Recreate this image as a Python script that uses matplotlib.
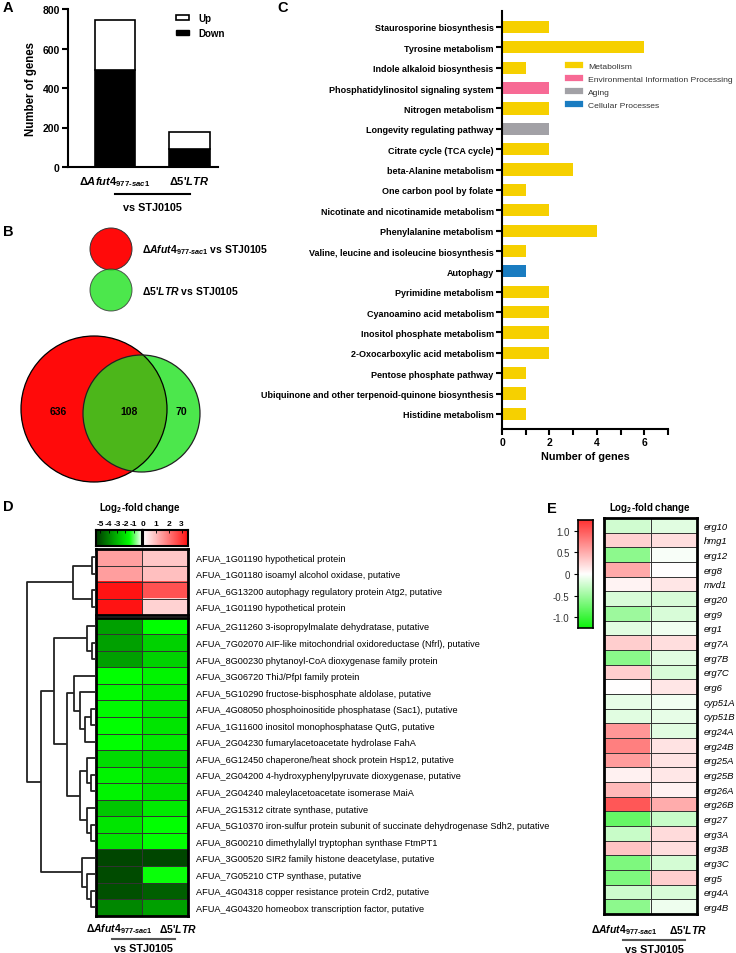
import numpy as np
import matplotlib
matplotlib.use('Agg')
import matplotlib.pyplot as plt
from matplotlib.colors import LinearSegmentedColormap
from matplotlib.patches import Circle, Patch
from matplotlib.lines import Line2D

plt.rcParams['font.family'] = ['Liberation Sans', 'DejaVu Sans']
plt.rcParams['mathtext.fontset'] = 'custom'
plt.rcParams['mathtext.rm'] = 'Liberation Sans:bold'
plt.rcParams['mathtext.it'] = 'Liberation Sans:italic:bold'
plt.rcParams['mathtext.bf'] = 'Liberation Sans:bold'

W, H = 736, 954

AFUT = r'$\Delta\mathit{Afut4}_{\mathit{977\text{-}sac1}}$'
LTR = r"$\Delta\mathit{5\text{'}LTR}$"

# ---- A: DEG counts ----
a_strains = [AFUT, LTR]
a_down = [490, 90]
a_up = [254, 88]

# ---- B: Venn counts ----
venn_only_afut = 636
venn_shared = 108
venn_only_ltr = 70

# ---- C: KEGG pathways ----
pathways = ['Staurosporine biosynthesis', 'Tyrosine metabolism', 'Indole alkaloid biosynthesis',
            'Phosphatidylinositol signaling system', 'Nitrogen metabolism',
            'Longevity regulating pathway', 'Citrate cycle (TCA cycle)', 'beta-Alanine metabolism',
            'One carbon pool by folate', 'Nicotinate and nicotinamide metabolism',
            'Phenylalanine metabolism', 'Valine, leucine and isoleucine biosynthesis', 'Autophagy',
            'Pyrimidine metabolism', 'Cyanoamino acid metabolism', 'Inositol phosphate metabolism',
            '2-Oxocarboxylic acid metabolism', 'Pentose phosphate pathway',
            'Ubiquinone and other terpenoid-quinone biosynthesis', 'Histidine metabolism']
pathway_counts = [2, 6, 1, 2, 2, 2, 2, 3, 1, 2, 4, 1, 1, 2, 2, 2, 2, 1, 1, 1]
pathway_class = ['Metabolism', 'Metabolism', 'Metabolism', 'Environmental Information Processing',
                 'Metabolism', 'Aging', 'Metabolism', 'Metabolism', 'Metabolism', 'Metabolism',
                 'Metabolism', 'Metabolism', 'Cellular Processes', 'Metabolism', 'Metabolism',
                 'Metabolism', 'Metabolism', 'Metabolism', 'Metabolism', 'Metabolism']
class_names = ['Metabolism', 'Environmental Information Processing', 'Aging', 'Cellular Processes']
class_colors = ['#f6d000', '#f76a95', '#a2a1a6', '#1a7cc1']

# ---- D: heatmap of DEGs ----
d_genes = ['AFUA_1G01190 hypothetical protein',
           'AFUA_1G01180 isoamyl alcohol oxidase, putative',
           'AFUA_6G13200 autophagy regulatory protein Atg2, putative',
           'AFUA_1G01190 hypothetical protein',
           'AFUA_2G11260 3-isopropylmalate dehydratase, putative',
           'AFUA_7G02070 AIF-like mitochondrial oxidoreductase (Nfrl), putative',
           'AFUA_8G00230 phytanoyl-CoA dioxygenase family protein',
           'AFUA_3G06720 ThiJ/PfpI family protein',
           'AFUA_5G10290 fructose-bisphosphate aldolase, putative',
           'AFUA_4G08050 phosphoinositide phosphatase (Sac1), putative',
           'AFUA_1G11600 inositol monophosphatase QutG, putative',
           'AFUA_2G04230 fumarylacetoacetate hydrolase FahA',
           'AFUA_6G12450 chaperone/heat shock protein Hsp12, putative',
           'AFUA_2G04200 4-hydroxyphenylpyruvate dioxygenase, putative',
           'AFUA_2G04240 maleylacetoacetate isomerase MaiA',
           'AFUA_2G15312 citrate synthase, putative',
           'AFUA_5G10370 iron-sulfur protein subunit of succinate dehydrogenase Sdh2, putative',
           'AFUA_8G00210 dimethylallyl tryptophan synthase FtmPT1',
           'AFUA_3G00520 SIR2 family histone deacetylase, putative',
           'AFUA_7G05210 CTP synthase, putative',
           'AFUA_4G04318 copper resistance protein Crd2, putative',
           'AFUA_4G04320 homeobox transcription factor, putative']
d_afut = [1.36, 1.4, 3.4, 3.4, -3.4, -3.4, -3.4, -1.5, -1.6, -1.6, -1.5, -1.5,
          -2.2, -1.7, -1.7, -2.6, -2.0, -2.0, -5.2, -5.1, -5.0, -3.9]
d_ltr = [0.8, 0.92, 2.5, 0.65, -1.5, -2.4, -2.4, -1.7, -1.9, -2.0, -2.0, -1.9,
         -2.3, -2.1, -2.1, -1.9, -1.5, -1.5, -5.2, -1.45, -4.7, -3.4]
d_blocks = [4, 18]
# dendrogram merges: (left, right, height); leaves 0..21, new nodes from 22
d_merges = [(0, 1, 4), (2, 3, 4), (22, 23, 23),
            (5, 6, 4), (4, 25, 9),
            (9, 10, 5), (27, 11, 11), (8, 28, 16), (7, 29, 22),
            (13, 14, 5), (12, 31, 9), (16, 17, 5), (15, 33, 9), (32, 34, 16),
            (30, 35, 29), (26, 36, 42),
            (20, 21, 5), (19, 38, 9), (18, 39, 14),
            (37, 40, 55), (24, 41, 69)]

# ---- E: ergosterol genes ----
e_genes = ['erg10', 'hmg1', 'erg12', 'erg8', 'mvd1', 'erg20', 'erg9', 'erg1', 'erg7A', 'erg7B',
           'erg7C', 'erg6', 'cyp51A', 'cyp51B', 'erg24A', 'erg24B', 'erg25A', 'erg25B', 'erg26A',
           'erg26B', 'erg27', 'erg3A', 'erg3B', 'erg3C', 'erg5', 'erg4A', 'erg4B']
e_afut = [-0.24, 0.28, -0.58, 0.52, 0.07, -0.2, -0.5, -0.15, 0.3, -0.6, 0.3, 0.0, -0.12, -0.15,
          0.63, 0.78, 0.6, 0.08, 0.42, 1.02, -0.79, -0.28, 0.36, -0.66, -0.66, -0.25, -0.58]
e_ltr = [-0.15, 0.2, -0.03, 0.0, 0.15, -0.2, -0.2, -0.07, 0.2, -0.15, -0.2, 0.15, -0.06, -0.12,
         -0.15, 0.17, 0.17, 0.14, 0.08, 0.5, -0.28, 0.22, 0.2, -0.22, 0.3, -0.2, -0.08]

fig = plt.figure(figsize=(W / 100, H / 100), dpi=100)


def px_axes(x0, y0, x1, y1):
    return fig.add_axes([x0 / W, 1 - y1 / H, (x1 - x0) / W, (y1 - y0) / H])


def style_spines(ax, lw=1.5):
    for s in ['top', 'right']:
        ax.spines[s].set_visible(False)
    for s in ['left', 'bottom']:
        ax.spines[s].set_linewidth(lw)


# ================= A =================
axA = px_axes(68, 10, 218, 168)
xa = np.arange(len(a_strains))
axA.bar(xa, a_down, width=0.54, color='black', edgecolor='black', lw=1.2)
axA.bar(xa, a_up, bottom=a_down, width=0.54, color='white', edgecolor='black', lw=1.2)
axA.set_xlim(-0.63, 1.38)
axA.set_ylim(0, 800)
axA.set_yticks([0, 200, 400, 600, 800])
axA.set_xticks(xa)
axA.set_xticklabels(a_strains, fontsize=8)
axA.tick_params(axis='x', length=0, pad=5)
axA.tick_params(axis='y', length=4, width=1.5, labelsize=7.5, pad=2)
for t in axA.get_yticklabels():
    t.set_fontweight('bold')
axA.set_ylabel('Number of genes', fontsize=8.3, fontweight='bold', labelpad=4)
style_spines(axA)
axA.legend([Patch(fc='white', ec='black', lw=1.2), Patch(fc='black', ec='black')], ['Up', 'Down'],
           loc='upper left', bbox_to_anchor=(0.66, 1.03), frameon=False, handlelength=1.4,
           handleheight=0.45, handletextpad=0.9, labelspacing=0.5,
           prop={'size': 7, 'weight': 'bold'})

# ================= C =================
axC = px_axes(502, 12, 668, 430)
yc = np.arange(len(pathways))
cmap_cls = dict(zip(class_names, class_colors))
axC.barh(yc, pathway_counts, height=0.6, color=[cmap_cls[c] for c in pathway_class])
axC.set_ylim(len(pathways) - 1 + 0.74, -0.785)
axC.set_xlim(0, 7)
axC.set_yticks(yc)
axC.set_yticklabels(pathways, fontsize=6.5, fontweight='bold')
axC.set_xticks([0, 2, 4, 6])
axC.set_xticks([1, 3, 5, 7], minor=True)
axC.tick_params(axis='both', which='both', length=4, width=1.5, pad=2)
axC.tick_params(axis='x', labelsize=7.5)
for t in axC.get_xticklabels():
    t.set_fontweight('bold')
axC.set_xlabel('Number of genes', fontsize=7.8, fontweight='bold', labelpad=3)
style_spines(axC)
handles = [Line2D([], [], color=c, lw=4.5) for c in class_colors]
leg = axC.legend(handles, class_names, loc='upper left', bbox_to_anchor=(0.38, 0.885),
                 frameon=False, fontsize=6.1, handlelength=1.4, labelspacing=0.6,
                 handletextpad=0.9, borderaxespad=0)
for t in leg.get_texts():
    t.set_color('#333333')

# ================= D =================
green_cm = LinearSegmentedColormap.from_list(
    'g', [(0, (0, 0.22, 0)), (4 / 5.5, (0, 1, 0)), (1, (1, 1, 1))])
red_cm = LinearSegmentedColormap.from_list('r', [(1, 1, 1), (1, 0.05, 0.05)])


def d_color(v):
    if v < 0:
        return green_cm((v + 5.5) / 5.5)
    return red_cm(v / 3.5)


d_vals = np.column_stack([d_afut, d_ltr])
row_h = 16.55
gap = 2.5
d_top = 550
hm_x0, hm_x1 = 96, 188
leaf_y = []
y0 = d_top
start = 0
for nb in d_blocks:
    ax = px_axes(hm_x0, y0, hm_x1, y0 + nb * row_h)
    block = d_vals[start:start + nb]
    colors = np.array([[d_color(v) for v in row] for row in block])
    ax.imshow(colors, aspect='auto', extent=(0, 2, nb, 0), interpolation='nearest')
    for k in range(1, nb):
        ax.axhline(k, color='#333333', lw=0.7)
    ax.axvline(1, color='#333333', lw=0.7)
    ax.set_xlim(0, 2)
    ax.set_ylim(nb, 0)
    ax.set_xticks([])
    ax.set_yticks(np.arange(nb) + 0.5)
    ax.set_yticklabels(d_genes[start:start + nb], fontsize=6.6)
    ax.yaxis.tick_right()
    ax.tick_params(axis='y', length=0, pad=6)
    for s in ax.spines.values():
        s.set_linewidth(2)
    for k in range(nb):
        leaf_y.append(y0 + (k + 0.5) * row_h - d_top)
    y0 += nb * row_h + gap
    start += nb
d_bottom = y0 - gap

# dendrogram
axDen = px_axes(0, d_top, hm_x0, d_bottom)
axDen.set_xlim(hm_x0, 0)
axDen.set_ylim(d_bottom - d_top, 0)
axDen.axis('off')
node_y = list(leaf_y)
node_h = [0] * len(leaf_y)
for a, b, h in d_merges:
    axDen.plot([node_h[a], h, h, node_h[b]], [node_y[a], node_y[a], node_y[b], node_y[b]],
               color='#222222', lw=1.3, solid_capstyle='butt')
    node_y.append((node_y[a] + node_y[b]) / 2)
    node_h.append(h)

# D colour key
grad = np.linspace(0, 1, 256)[None, :]
axKg = px_axes(96, 531, 142, 547)
axKg.imshow(green_cm(grad), aspect='auto', extent=(-5.5, 0, 0, 1))
axKg.set_xlim(-5.5, 0)
axKg.set_xticks([-5, -4, -3, -2, -1])
axKg.set_xticklabels(['-5', '-4', '-3', '-2', '-1'])
axKr = px_axes(143, 531, 188, 547)
axKr.imshow(red_cm(grad), aspect='auto', extent=(0, 3.5, 0, 1))
axKr.set_xlim(0, 3.5)
axKr.set_xticks([0, 1, 2, 3])
for ax in (axKg, axKr):
    ax.set_yticks([])
    ax.xaxis.tick_top()
    ax.tick_params(axis='x', direction='in', length=2, width=0.6, labelsize=6, pad=2)
    for t in ax.get_xticklabels():
        t.set_fontweight('bold')
    for s in ax.spines.values():
        s.set_linewidth(1.5)

# ================= E =================
e_cm = LinearSegmentedColormap.from_list(
    'e', [(0.05, 0.95, 0.05), (1, 1, 1), (1, 0.2, 0.2)])
e_vals = np.column_stack([e_afut, e_ltr])
axE = px_axes(604, 519, 697, 915)
ne = len(e_genes)
axE.imshow(e_vals, cmap=e_cm, vmin=-1.25, vmax=1.25, aspect='auto', extent=(0, 2, ne, 0),
           interpolation='nearest')
for k in range(1, ne):
    axE.axhline(k, color='#333333', lw=0.7)
axE.axvline(1, color='#333333', lw=0.7)
axE.set_xlim(0, 2)
axE.set_ylim(ne, 0)
axE.set_xticks([])
axE.set_yticks(np.arange(ne) + 0.5)
axE.set_yticklabels(e_genes, fontsize=6.8, fontstyle='italic')
axE.yaxis.tick_right()
axE.tick_params(axis='y', length=0, pad=5)
for s in axE.spines.values():
    s.set_linewidth(2)

axEc = px_axes(578, 521, 593, 629)
axEc.imshow(np.linspace(-1.25, 1.25, 256)[:, None], cmap=e_cm, vmin=-1.25, vmax=1.25,
            aspect='auto', extent=(0, 1, -1.25, 1.25), origin='lower')
axEc.set_ylim(-1.25, 1.25)
axEc.set_xticks([])
axEc.set_yticks([-1, -0.5, 0, 0.5, 1])
axEc.set_yticklabels(['-1.0', '-0.5', '0', '0.5', '1.0'])
axEc.tick_params(axis='y', length=3, width=0.8, labelsize=7, pad=3, labelcolor='#333333')
for s in axEc.spines.values():
    s.set_linewidth(1.2)

# ================= overlay: labels, Venn =================
ov = fig.add_axes([0, 0, 1, 1])
ov.set_xlim(0, W)
ov.set_ylim(H, 0)
ov.axis('off')

for lab, x, y in [('A', 3, 8), ('B', 3, 232), ('C', 277, 8), ('D', 3, 507), ('E', 547, 509)]:
    ov.text(x, y, lab, fontsize=10.5, fontweight='bold', va='center', ha='left')

# group line and caption under A, D, E
for xl, xr, yl, ytxt in [(115, 190, 195, 208), (112, 175, 940, 949), (623, 685, 941, 950)]:
    ov.plot([xl, xr], [yl, yl], color='black' if yl < 300 else '#555555', lw=1.5)
    ov.text((xl + xr) / 2, ytxt, 'vs STJ0105', fontsize=7.8, fontweight='bold',
            ha='center', va='center')
for xc1, xc2, yy in [(119, 178, 929), (624, 688, 930)]:
    ov.text(xc1, yy, AFUT, fontsize=7.5, ha='center', va='center')
    ov.text(xc2, yy, LTR, fontsize=7.5, ha='center', va='center')

# titles of colour keys
ov.text(140, 508, r'Log$_2$-fold change', fontsize=7, fontweight='bold', ha='center', va='center')
ov.text(650, 508, r'Log$_2$-fold change', fontsize=7, fontweight='bold', ha='center', va='center')

# Venn diagram
red = '#ff0a0a'
green = (31 / 255, 226 / 255, 31 / 255)
ov.add_patch(Circle((111, 250), 21, fc=red, ec='#333333', lw=0.7))
ov.add_patch(Circle((111, 291), 21, fc=green, alpha=0.8, ec='#333333', lw=0.7))
ov.text(142, 250, AFUT + ' vs STJ0105', fontsize=7.5, fontweight='bold', va='center')
ov.text(142, 291, LTR + ' vs STJ0105', fontsize=7.5, fontweight='bold', va='center')
ov.add_patch(Circle((94, 410), 73, fc=red, ec='none'))
ov.add_patch(Circle((141.5, 414.5), 58.5, fc=green, alpha=0.8, ec='none'))
ov.add_patch(Circle((94, 410), 73, fc='none', ec='black', lw=0.9))
ov.add_patch(Circle((141.5, 414.5), 58.5, fc='none', ec='#222222', lw=0.9))
for x, v in [(58, venn_only_afut), (129, venn_shared), (181, venn_only_ltr)]:
    ov.text(x, 412, str(v), fontsize=7.5, fontweight='bold', ha='center', va='center')

fig.savefig('out.png', dpi=100)
